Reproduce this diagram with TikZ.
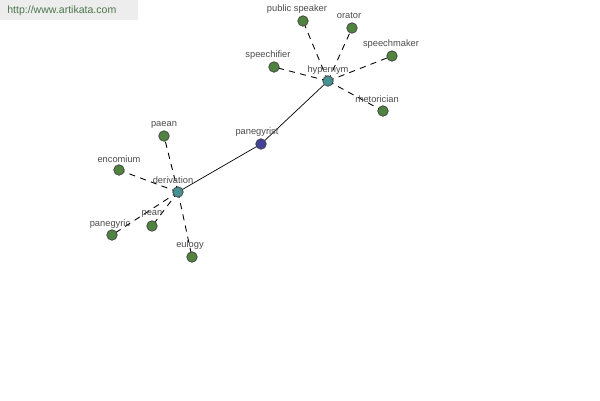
\documentclass[tikz,border=0pt]{standalone}
\usepackage{fontspec}
\setmainfont{Liberation Sans}
\definecolor{leafc}{RGB}{80,130,64}
\definecolor{hubc}{RGB}{70,145,145}
\definecolor{corec}{RGB}{66,66,155}
\begin{document}
\begin{tikzpicture}[x=0.02cm,y=-0.02cm,
  leaf/.style={circle,draw=black!75,fill=leafc,inner sep=0pt,minimum size=10.5*0.02cm},
  hub/.style={circle,draw=black!75,fill=hubc,inner sep=0pt,minimum size=10.5*0.02cm},
  core/.style={circle,draw=black!75,fill=corec,inner sep=0pt,minimum size=10.5*0.02cm},
  lbl/.style={font=\fontsize{5.3}{6}\selectfont,text=black!70,inner sep=0pt},
  dl/.style={black,line width=0.5pt,dash pattern=on 3.5pt off 3pt,shorten >=2.5pt},
  sl/.style={black,line width=0.4pt}]
\useasboundingbox (0,0) rectangle (600,400);
\fill[black!7] (0,0) rectangle (138,20);
\node[font=\fontsize{6}{7}\selectfont,text=black!60!green!40!gray,anchor=west,inner sep=0pt] (wm) at (7,11) {http://www.artikata.com};
% edges (drawn first, behind nodes)
\coordinate (cpg) at (261,144);
\coordinate (chy) at (328,81);
\coordinate (cde) at (178,192);
\draw[sl] (cpg) -- (chy);
\draw[sl] (cpg) -- (cde);
\foreach \p in {(303,21),(352,28),(392,56),(274,67),(383,111)} \draw[dl] (chy) -- \p;
\foreach \p in {(164,136),(119,170),(112,235),(152,226),(192,257)} \draw[dl] (cde) -- \p;
% nodes
\node[core] (pg) at (cpg) {};
\node[hub] (hy) at (chy) {};
\node[hub] (de) at (cde) {};
\node[leaf] (ps) at (303,21) {};
\node[leaf] (or) at (352,28) {};
\node[leaf] (sm) at (392,56) {};
\node[leaf] (sf) at (274,67) {};
\node[leaf] (rh) at (383,111) {};
\node[leaf] (pa) at (164,136) {};
\node[leaf] (en) at (119,170) {};
\node[leaf] (pc) at (112,235) {};
\node[leaf] (pe) at (152,226) {};
\node[leaf] (eu) at (192,257) {};
% labels
\node[lbl] (lpg) at (257,132) {panegyrist};
\node[lbl] (lhy) at (328,70) {hypernym};
\node[lbl] (lde) at (173,180) {derivation};
\node[lbl] (lps) at (297,9) {public speaker};
\node[lbl] (lor) at (349,16) {orator};
\node[lbl] (lsm) at (391,44) {speechmaker};
\node[lbl] (lsf) at (268,55) {speechifier};
\node[lbl] (lrh) at (377,99) {rhetorician};
\node[lbl] (lpa) at (164,125) {paean};
\node[lbl] (len) at (119,159) {encomium};
\node[lbl] (lpc) at (110,224) {panegyric};
\node[lbl] (lpe) at (152,214) {pean};
\node[lbl] (leu) at (190,245) {eulogy};
\end{tikzpicture}
\end{document}
